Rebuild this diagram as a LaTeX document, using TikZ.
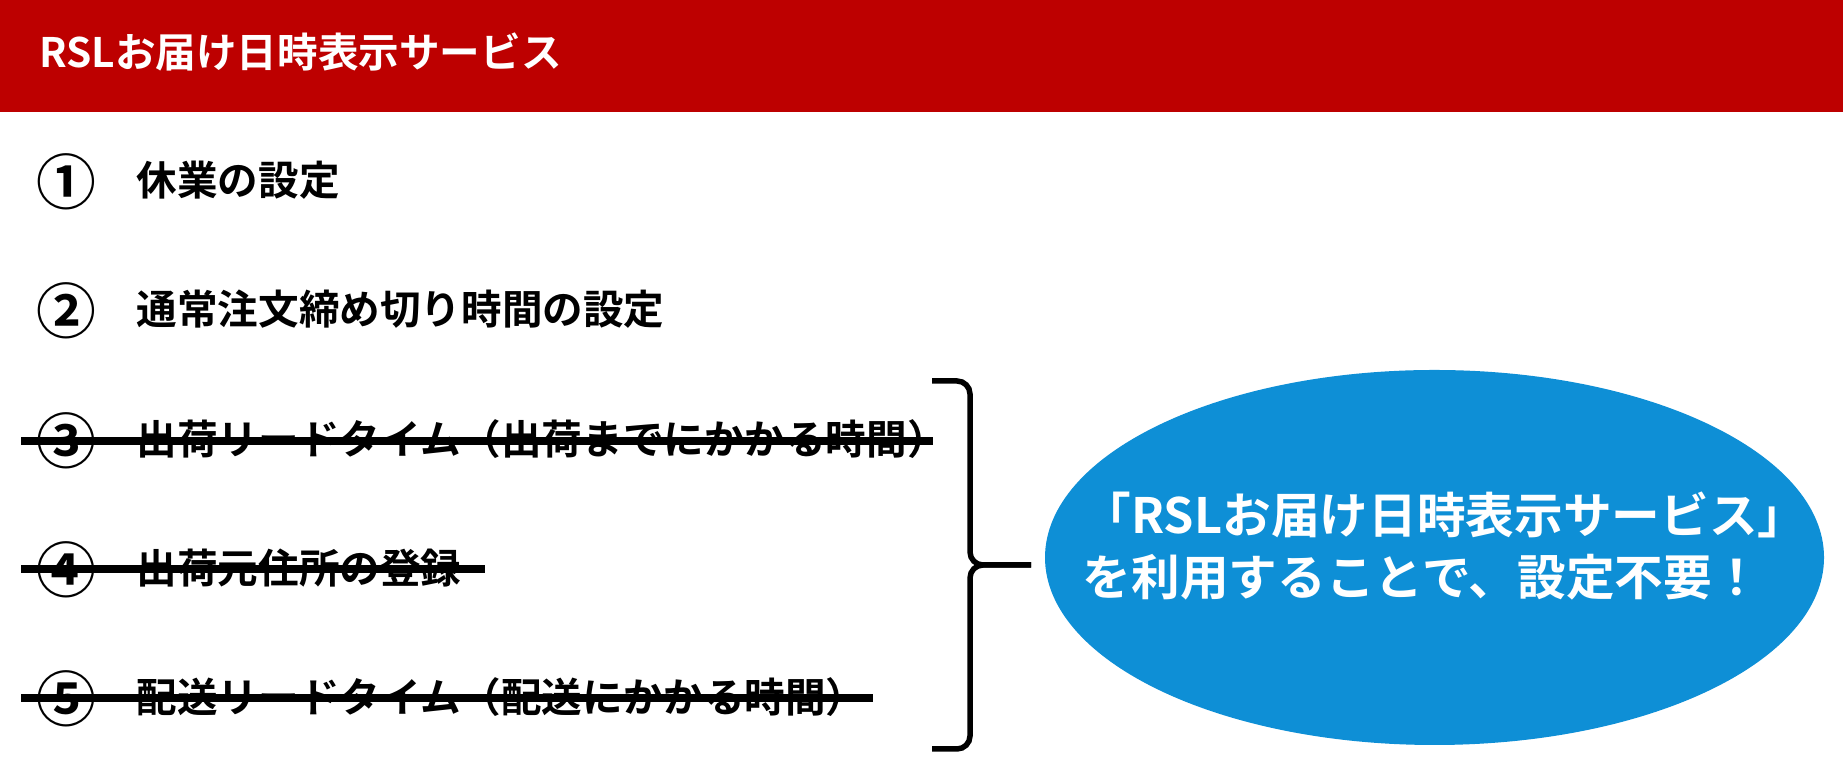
\documentclass[tikz,border=0pt]{standalone}
\usepackage{fontspec}
\setmainfont{Noto Sans CJK JP}[BoldFont={* Bold}]
\definecolor{barred}{RGB}{189,0,0}
\definecolor{ballblue}{RGB}{14,143,214}
\tikzset{
    BAR/.style ={rectangle,minimum width = 18.43cm, minimum height = 1.12cm, inner sep=0pt, fill=barred},
    NU/.style ={inner sep=0pt, font=\fontsize{17}{17}\selectfont\bfseries},
    TX/.style ={anchor=west, inner sep=0pt, font=\fontsize{11.55}{14}\selectfont\bfseries},
    EL/.style ={ellipse,minimum width = 7.79cm, minimum height = 3.75cm, inner sep=0pt, fill=ballblue},
    ST/.style ={line width=0.08cm},
    BR/.style ={line width=0.055cm, rounded corners=0.13cm}}
\usetikzlibrary{shapes.geometric}
\begin{document}
\begin{tikzpicture}
        \useasboundingbox (0,0) rectangle (18.43,7.66);
        \node[BAR] (0) at(9.215,7.10){};
        \node[TX,text=white] (t) at(0.385,7.14){RSLお届け日時表示サービス};
        \node[NU] (n1) at(0.66,5.84){①};
        \node[NU] (n2) at(0.66,4.55){②};
        \node[NU] (n3) at(0.66,3.25){③};
        \node[NU] (n4) at(0.66,1.96){④};
        \node[NU] (n5) at(0.66,0.67){⑤};
        \node[TX] (1) at(1.36,5.86){休業の設定};
        \node[TX] (2) at(1.36,4.57){通常注文締め切り時間の設定};
        \node[TX] (3) at(1.36,3.27){出荷リードタイム（出荷までにかかる時間）};
        \node[TX] (4) at(1.36,1.98){出荷元住所の登録};
        \node[TX] (5) at(1.36,0.69){配送リードタイム（配送にかかる時間）};
        \node[EL] (6) at(14.345,2.085){};
        \node[TX,text=white,align=left,font=\fontsize{13.85}{17.4}\selectfont\bfseries] (7) at(10.82,2.20){「RSLお届け日時表示サービス」\\を利用することで、設定不要！};
        \coordinate (s3a) at(0.21,3.25);
        \coordinate (s3b) at(9.33,3.25);
        \coordinate (s4a) at(0.21,1.97);
        \coordinate (s4b) at(4.85,1.97);
        \coordinate (s5a) at(0.21,0.68);
        \coordinate (s5b) at(8.73,0.68);
        \draw[ST] (s3a) --(s3b);
        \draw[ST] (s4a) --(s4b);
        \draw[ST] (s5a) --(s5b);
        \coordinate (bt) at(9.32,3.85);
        \coordinate (bb) at(9.32,0.17);
        \coordinate (bm) at(9.70,2.01);
        \coordinate (bs) at(10.31,2.01);
        \draw[BR] (bt) -| (bm) --(bs);
        \draw[BR] (bb) -| (bm) --(bs);
    \end{tikzpicture}
\end{document}
